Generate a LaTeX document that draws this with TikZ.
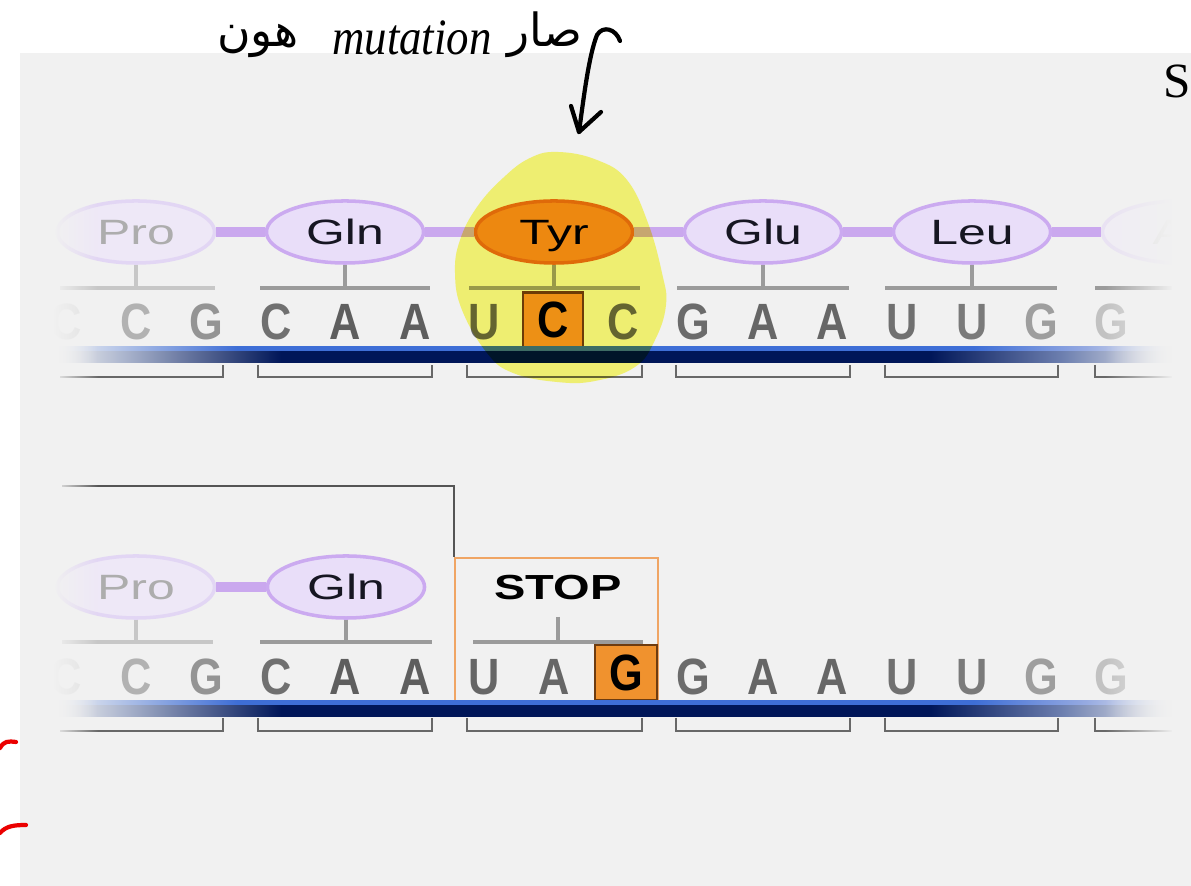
\documentclass[tikz,border=0pt]{standalone}
\usepackage{graphicx}
\usepackage{fontspec}
\setmainfont{Liberation Sans}
\newfontfamily\serifS{Liberation Serif}
\newfontfamily\arabicfont[Script=Arabic]{DejaVu Sans}
\TeXXeTstate=1
\usetikzlibrary{shapes.geometric,fadings}
\definecolor{bg}{RGB}{241,241,241}
\definecolor{lavfill}{RGB}{233,222,249}
\definecolor{lavline}{RGB}{203,170,240}
\definecolor{lavfadefill}{RGB}{238,232,247}
\definecolor{lavfade}{RGB}{226,214,244}
\definecolor{lavfadefill2}{RGB}{240,237,245}
\definecolor{lavfade2}{RGB}{233,226,243}
\definecolor{chainc}{RGB}{202,168,238}
\definecolor{tyrfill}{RGB}{240,138,36}
\definecolor{tyrline}{RGB}{226,108,20}
\definecolor{stemc}{RGB}{155,155,155}
\definecolor{brkc}{RGB}{104,104,104}
\definecolor{navy}{RGB}{0,22,88}
\definecolor{bargrey}{RGB}{170,180,205}
\definecolor{barmid}{RGB}{110,128,176}
\definecolor{barblue}{RGB}{62,110,214}
\definecolor{barpale}{RGB}{150,170,225}
\definecolor{mutfill}{RGB}{240,146,46}
\definecolor{mutline}{RGB}{110,60,16}
\definecolor{stopline}{RGB}{240,165,100}
\definecolor{connc}{RGB}{85,85,85}
\definecolor{hl}{RGB}{252,252,120}
\definecolor{ink}{RGB}{22,22,34}
\definecolor{redink}{RGB}{235,0,0}
\newcommand\wlab[1]{\scalebox{1.42}[1]{#1}}
\newcommand\nar[1]{\scalebox{0.85}[1]{#1}}
\pgfdeclarehorizontalshading{barnavy}{100bp}{color(0bp)=(bg); color(25bp)=(bg); color(28bp)=(bargrey); color(35bp)=(navy); color(64bp)=(navy); color(70bp)=(barmid); color(75bp)=(bg); color(100bp)=(bg)}
\pgfdeclarehorizontalshading{barlight}{100bp}{color(0bp)=(bg); color(25bp)=(bg); color(33bp)=(barblue); color(66bp)=(barblue); color(71bp)=(barpale); color(75bp)=(bg); color(100bp)=(bg)}
\tikzfading[name=fadeR, left color=transparent!0, right color=transparent!100]
\tikzfading[name=fadeL, left color=transparent!100, right color=transparent!0]
\begin{document}
\begin{tikzpicture}[x=0.01cm,y=-0.01cm,
  aa/.style={ellipse, draw=lavline, fill=lavfill, line width=1pt, minimum width=1.57cm, minimum height=0.62cm, inner sep=0pt, text height=7.1pt, text depth=0pt, font=\fontsize{10}{12}\selectfont, text=ink},
  aafade/.style={aa, draw=lavfade, fill=lavfadefill, text=black!32},
  chain/.style={chainc, line width=2.6pt},
  stem/.style={stemc, line width=1.1pt},
  bar/.style={stemc, line width=0.9pt},
  brk/.style={brkc, line width=0.6pt},
  nuc/.style={inner sep=0pt, font=\bfseries\fontsize{14.5}{16}\selectfont},
  mut/.style={draw=mutline, fill=mutfill, line width=0.7pt, minimum width=0.6cm, minimum height=0.55cm, text=black},
  hand/.style={black, line width=1.2pt, line cap=round, line join=round},
]
\useasboundingbox (0,0) rectangle (1191,886);
\fill[white] (0,0) rectangle (1191,886);
\fill[bg] (20,53) rectangle (1191,886);

% ---------- row 1 ----------
\node[aafade] (pro1) at (136,232) {\wlab{Pro}};
\node[aa] (gln1) at (345,232) {\wlab{Gln}};
\node[aa, draw=tyrline, fill=tyrfill, text=black] (tyr1) at (554,232) {\wlab{Tyr}};
\node[aa] (glu1) at (763,232) {\wlab{Glu}};
\node[aa] (leu1) at (972,232) {\wlab{Leu}};
\node[aafade, draw=lavfade2, fill=lavfadefill2] (nxt1) at (1181,232) {};
\node[anchor=base west, inner sep=0pt, font=\fontsize{10}{12}\selectfont, text=black!14] (nxtlab) at (1152,245) {\wlab{A}};
\draw[chain] (pro1.east) -- (gln1.west);
\draw[chain] (gln1.east) -- (tyr1.west);
\draw[chain] (tyr1.east) -- (glu1.west);
\draw[chain] (glu1.east) -- (leu1.west);
\draw[chain] (leu1.east) -- (nxt1.west);

\draw[stem, black!22] (pro1.south) -- (136,288);
\foreach \n/\x in {gln1/345, tyr1/554, glu1/763, leu1/972}
  \draw[stem] (\n.south) -- (\x,288);
\draw[bar, black!22] (60,288) -- (215,288);
\foreach \a/\b in {260/430, 469/640, 677/849, 885/1057, 1095/1175}
  \draw[bar] (\a,288) -- (\b,288);

\foreach \x/\l/\c [count=\i] in {66/C/black!12, 136/C/black!30, 206/G/black!42, 276/C/black!56, 345/A/black!63, 415/A/black!63, 484/U/black!60, 623/C/black!60, 693/G/black!58, 763/A/black!60, 832/A/black!60, 902/U/black!56, 972/U/black!52, 1041/G/black!38, 1111/G/black!24}
  \node[nuc, text=\c] (ra\i) at (\x,322) {\nar{\l}};
\node[nuc, mut] (mutC) at (553,320) {\nar{C}};

\shade[shading=barlight] (58,347) rectangle (1175,352.5);
\shade[shading=barnavy] (58,352) rectangle (1175,363);

\draw[brk] (60,377) -- (223,377) -- (223,365);
\foreach \a/\b in {258/432, 467/642, 676/850, 885/1058}
  \draw[brk] (\a,365) -- (\a,377) -- (\b,377) -- (\b,365);
\draw[brk] (1095,365) -- (1095,377) -- (1175,377);

% ---------- row 2 ----------
\node[draw=stopline, line width=0.6pt, minimum width=2.03cm, minimum height=1.43cm, inner sep=0pt] (stopbox) at (556.5,629.5) {};
\coordinate (lstart) at (62,486);
\draw[connc, line width=0.55pt] (lstart) -| (stopbox.north west);

\node[aafade] (pro2) at (136,587) {\wlab{Pro}};
\node[aa] (gln2) at (346,587) {\wlab{Gln}};
\draw[chain] (pro2.east) -- (gln2.west);
\node[inner sep=0pt, font=\bfseries\fontsize{9.9}{11}\selectfont, text=black] (stop) at (558,587.5) {\scalebox{1.35}[1]{STOP}};

\draw[stem, black!22] (pro2.south) -- (136,642);
\draw[stem] (gln2.south) -- (346,642);
\draw[stem] (558,617) -- (558,642);
\draw[bar, black!22] (62,642) -- (213,642);
\draw[bar] (260,642) -- (432,642);
\draw[bar] (473,642) -- (643,642);

\foreach \x/\l/\c [count=\i] in {66/C/black!12, 136/C/black!30, 206/G/black!42, 276/C/black!56, 345/A/black!63, 415/A/black!63, 484/U/black!60, 554/A/black!60, 693/G/black!58, 763/A/black!60, 832/A/black!60, 902/U/black!56, 972/U/black!52, 1041/G/black!38, 1111/G/black!24}
  \node[nuc, text=\c] (rb\i) at (\x,677) {\nar{\l}};
\node[nuc, mut, minimum width=0.62cm] (mutG) at (626,672.5) {\nar{G}};

\shade[shading=barlight] (58,701) rectangle (1175,706.5);
\shade[shading=barnavy] (58,706) rectangle (1175,717);

\draw[brk] (60,731) -- (223,731) -- (223,718);
\foreach \a/\b in {258/432, 467/642, 676/850, 885/1058}
  \draw[brk] (\a,718) -- (\a,731) -- (\b,731) -- (\b,718);
\draw[brk] (1095,718) -- (1095,731) -- (1175,731);

% ---------- edge fades ----------
\fill[bg] (20,140) rectangle (54,770);
\fill[bg, path fading=fadeR] (53,140) rectangle (98,770);
\fill[bg, path fading=fadeL] (1105,140) rectangle (1173,770);
\fill[bg] (1172,140) rectangle (1191,770);

% ---------- highlight ----------
\fill[hl, blend mode=multiply] plot[smooth cycle, tension=0.7] coordinates {(558,152) (597,160) (627,180) (648,223) (662,273) (666,305) (655,340) (635,367) (595,381) (557,382) (513,373) (487,353) (462,310) (455,273) (460,240) (477,207) (503,178) (530,158)};

% ---------- annotations ----------
\node[anchor=base west, inner sep=0pt, font=\serifS\fontsize{14}{16}\selectfont] (sletter) at (1163,98) {S};
\node[anchor=base, inner sep=0pt, font=\arabicfont\fontsize{13}{15}\selectfont] (hun) at (258,47) {\beginR هون\endR};
\node[anchor=base, inner sep=0pt, font=\serifS\itshape\fontsize{14.5}{17}\selectfont] (mutw) at (412,55) {\scalebox{0.88}[1]{mutation}};
\node[anchor=base, inner sep=0pt, font=\arabicfont\fontsize{13}{15}\selectfont] (sar) at (545,47) {\beginR صار\endR};
\coordinate (arrs) at (620,41);
\coordinate (arrt) at (579,132);
\draw[hand] (arrs) .. controls (616,29) and (603,25) .. (597,35) .. controls (589,55) and (584,95) .. (arrt);
\draw[hand] (571,106) -- (arrt) -- (601,112);
\draw[redink, line width=1.2pt, line cap=round] (0,748) .. controls (4,741) and (8,741) .. (16,742);
\draw[redink, line width=1.2pt, line cap=round] (0,833) .. controls (6,826) and (14,825) .. (26,825);
\end{tikzpicture}
\end{document}
